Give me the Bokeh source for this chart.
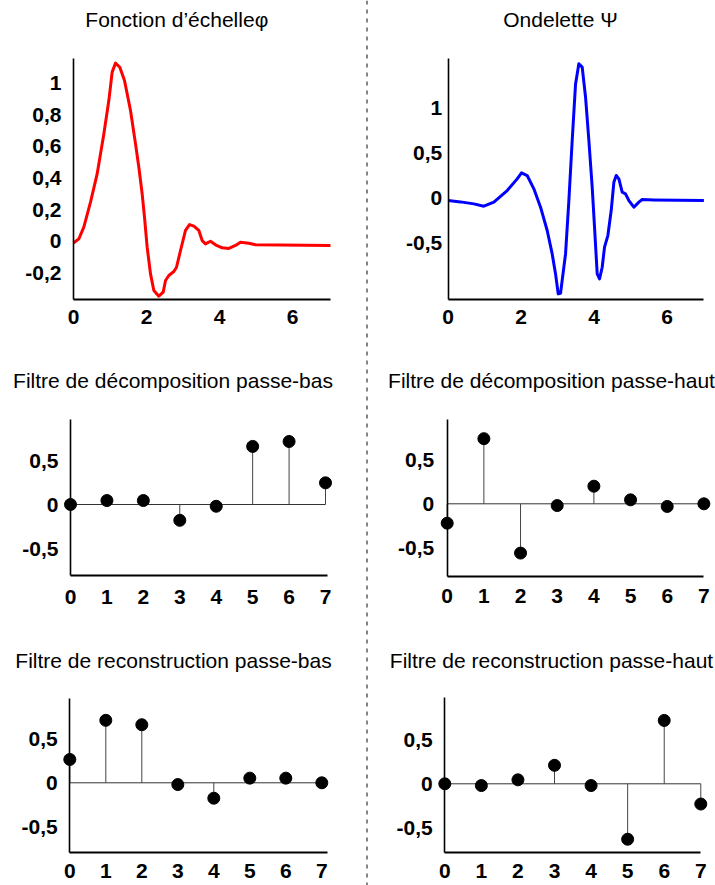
from bokeh.plotting import figure
from bokeh.models import Range1d, LinearAxis, FixedTicker, CustomJSTickFormatter, Label, Span
from bokeh.layouts import row, column
from bokeh.embed import file_html
from bokeh.resources import INLINE

# ---------------- data ----------------
phi_x = [0.000, 0.146, 0.283, 0.466, 0.648, 0.831, 0.968, 1.059, 1.151, 1.269, 1.397,
         1.562, 1.699, 1.790, 1.881, 1.945, 2.018, 2.110, 2.201, 2.338, 2.457, 2.521,
         2.612, 2.749, 2.822, 2.932, 3.068, 3.178, 3.297, 3.434, 3.525, 3.616, 3.753,
         3.890, 4.073, 4.256, 4.438, 4.575, 4.804, 4.986, 7.041]
phi_y = [-0.011, 0.015, 0.089, 0.247, 0.426, 0.679, 0.890, 1.070, 1.127, 1.101, 1.017,
         0.827, 0.616, 0.468, 0.300, 0.152, -0.038, -0.207, -0.312, -0.348, -0.323, -0.249,
         -0.217, -0.192, -0.165, -0.059, 0.068, 0.105, 0.095, 0.068, 0.004, -0.017, 0.000,
         -0.023, -0.042, -0.046, -0.027, -0.006, -0.013, -0.023, -0.027]

psi_x = [0.000, 0.338, 0.703, 0.977, 1.251, 1.616, 1.890, 2.009, 2.164, 2.347, 2.530,
         2.712, 2.849, 2.941, 3.014, 3.078, 3.215, 3.306, 3.397, 3.489, 3.580, 3.671,
         3.763, 3.854, 3.945, 4.009, 4.082, 4.146, 4.219, 4.283, 4.374, 4.466, 4.539,
         4.603, 4.676, 4.767, 4.858, 4.950, 5.087, 5.224, 5.315, 5.635, 7.005]
psi_y = [-0.026, -0.041, -0.063, -0.089, -0.044, 0.085, 0.215, 0.281, 0.252, 0.104, -0.100,
         -0.359, -0.619, -0.841, -1.063, -1.056, -0.619, -0.026, 0.641, 1.270, 1.493, 1.456,
         1.122, 0.641, 0.122, -0.322, -0.841, -0.896, -0.767, -0.544, -0.415, -0.137, 0.178,
         0.252, 0.215, 0.067, 0.048, -0.026, -0.100, -0.044, -0.015, -0.019, -0.026]

taps = [0, 1, 2, 3, 4, 5, 6, 7]
dec_lo = [0.0, 0.045, 0.045, -0.18, -0.02, 0.66, 0.716, 0.246]
dec_hi = [-0.22, 0.74, -0.56, -0.02, 0.20, 0.045, -0.03, 0.0]
rec_lo = [0.265, 0.71, 0.66, -0.02, -0.175, 0.053, 0.053, 0.0]
rec_hi = [0.0, -0.02, 0.045, 0.21, -0.02, -0.63, 0.72, -0.23]

phi_yticks = [-0.2, 0, 0.2, 0.4, 0.6, 0.8, 1]
psi_yticks = [-0.5, 0, 0.5, 1]
filt_yticks = [-0.5, 0, 0.5]
curve_xticks = [0, 2, 4, 6]
filt_xticks = taps

title_phi = "Fonction d\u2019\u00e9chelle\u03c6"
title_psi = "Ondelette \u03a8"
title_dlo = "Filtre de d\u00e9composition passe-bas"
title_dhi = "Filtre de d\u00e9composition passe-haut"
title_rlo = "Filtre de reconstruction passe-bas"
title_rhi = "Filtre de reconstruction passe-haut"

# ---------------- styling / layout helpers ----------------
FONT = "Liberation Sans"
TICK_SIZE = "21px"
TITLE_SIZE = "21px"


def make_panel(W, H, left, top, geom, yticks, xticks, title, tcx, tby):
    # geom: axis x (px), px per x unit, zero y (px), px per y unit,
    #       y-axis bottom, y-axis top, x-axis end, y label standoff, x label standoff
    ax_x, xu, zy, yu, yb, yt, xe, ysd, xsd = geom
    p = figure(width=W, height=H,
               x_range=Range1d((left - ax_x) / xu, (left + W - ax_x) / xu),
               y_range=Range1d((zy - (top + H)) / yu, (zy - top) / yu),
               x_axis_location=None, y_axis_location=None,
               toolbar_location=None, output_backend="svg",
               min_border=0, outline_line_color=None,
               background_fill_color="white", border_fill_color="white")
    p.grid.visible = False

    yax = LinearAxis(fixed_location=0, bounds=(yb, yt),
                     ticker=FixedTicker(ticks=yticks),
                     formatter=CustomJSTickFormatter(code="return String(tick).replace('.', ',');"))
    xax = LinearAxis(fixed_location=yb, bounds=(0, xe),
                     ticker=FixedTicker(ticks=xticks),
                     formatter=CustomJSTickFormatter(code="return String(tick).replace('.', ',');"))
    for ax, sd, lw in ((yax, ysd, 1.6), (xax, xsd, 2.0)):
        ax.axis_line_color = "black"
        ax.axis_line_width = lw
        ax.major_tick_line_color = None
        ax.minor_tick_line_color = None
        ax.major_tick_out = 0
        ax.major_tick_in = 0
        ax.major_label_standoff = sd
        ax.major_label_text_font = FONT
        ax.major_label_text_font_style = "bold"
        ax.major_label_text_font_size = TICK_SIZE
        ax.major_label_text_color = "black"
    p.add_layout(yax, "left")
    p.add_layout(xax, "below")

    p.add_layout(Label(x=(tcx - ax_x) / xu, y=(zy - tby) / yu, text=title,
                       text_align="center", text_baseline="alphabetic",
                       text_font=FONT, text_font_size=TITLE_SIZE, text_color="black"))
    return p


def stems(p, vals):
    p.segment(x0=min(taps), y0=0, x1=max(taps), y1=0, line_color="#333333", line_width=1)
    p.segment(x0=taps, y0=[0] * len(taps), x1=taps, y1=vals, line_color="#444444", line_width=1)
    p.scatter(taps, vals, size=12, fill_color="black", line_color="black")


LW, RW = 365, 347
LL, RL = 0, 368
H1, H2, H3 = 352, 280, 253
T1, T2, T3 = 0, 352, 632
B1, B2, B3 = 19.2, 379.5, 659.5   # title baselines

f1 = make_panel(LW, H1, LL, T1, (73, 36.5, 240.7, 158, -0.369, 1.156, 7.04, 12, 10),
                phi_yticks, curve_xticks, title_phi, 176.3, B1)
f1.line(phi_x, phi_y, line_color="#ff0000", line_width=3, line_join="round")

f2 = make_panel(RW, H1, RL, T1, (447.7, 36.5, 197.7, 90, -1.126, 1.549, 7.0, 6, 10),
                psi_yticks, curve_xticks, title_psi, 560, B1)
f2.line(psi_x, psi_y, line_color="#0000ff", line_width=3, line_join="round")

f3 = make_panel(LW, H2, LL, T2, (70, 36.43, 504, 88, -0.81, 0.966, 7.05, 12, 14),
                filt_yticks, filt_xticks, title_dlo, 172.5, B2)
stems(f3, dec_lo)

f4 = make_panel(RW, H2, RL, T2, (446.7, 36.67, 503.3, 88, -0.826, 0.955, 7.0, 13, 13),
                filt_yticks, filt_xticks, title_dhi, 551, B2)
stems(f4, dec_hi)

f5 = make_panel(LW, H3, LL, T3, (69.3, 36.0, 782.3, 88, -0.795, 0.955, 7.15, 12, 11),
                filt_yticks, filt_xticks, title_rlo, 173, B3)
stems(f5, rec_lo)

f6 = make_panel(RW, H3, RL, T3, (444.3, 36.57, 783.3, 88, -0.777, 0.977, 7.0, 12, 12),
                filt_yticks, filt_xticks, title_rhi, 551, B3)
stems(f6, rec_hi)

sep = figure(width=3, height=H1 + H2 + H3, x_range=Range1d(0, 3), y_range=Range1d(0, 1),
             x_axis_location=None, y_axis_location=None, toolbar_location=None,
             output_backend="svg", min_border=0, outline_line_color=None)
sep.grid.visible = False
sep.add_layout(Span(location=1.5, dimension="height", line_color="#333333",
                    line_width=1.2, line_dash="4 5"))

layout = row(column(f1, f3, f5), sep, column(f2, f4, f6))

open("out.html", "w").write(file_html(layout, INLINE))
